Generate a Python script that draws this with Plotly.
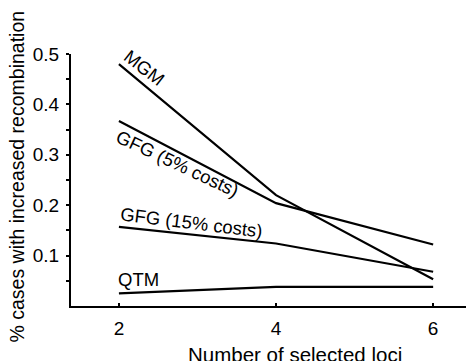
import plotly.graph_objects as go

loci = [2, 4, 6]
mgm = [0.48, 0.22, 0.053]
gfg5 = [0.367, 0.204, 0.122]
gfg15 = [0.157, 0.124, 0.068]
qtm = [0.025, 0.038, 0.038]

y_ticks = [0.1, 0.2, 0.3, 0.4, 0.5]
y_ticklabels = ["0.1", "0.2", "0.3", "0.4", "0.5"]
x_ticks = [2, 4, 6]

labels = ["MGM", "GFG (5% costs)", "GFG (15% costs)", "QTM"]
label_x = [2.32, 2.74, 2.92, 2.25]
label_y = [0.474, 0.282, 0.165, 0.053]
label_angle = [38, 25, 7, 0]

FONT = "Liberation Sans, Arial, Helvetica, sans-serif"

fig = go.Figure()
for ys in [mgm, gfg5, gfg15, qtm]:
    fig.add_trace(go.Scatter(x=loci, y=ys, mode="lines",
                             line=dict(color="black", width=2.2),
                             showlegend=False, hoverinfo="skip"))

for t, x, y, a in zip(labels, label_x, label_y, label_angle):
    fig.add_annotation(x=x, y=y, xref="x", yref="y", text=t, showarrow=False,
                       textangle=a, font=dict(family=FONT, size=18.5, color="black"),
                       xanchor="center", yanchor="middle")

fig.add_annotation(x=-0.135, y=0.512, xref="paper", yref="paper",
                   text="% cases with increased recombination", showarrow=False,
                   textangle=-90, font=dict(family=FONT, size=19.5, color="black"),
                   xanchor="center", yanchor="middle")
fig.add_annotation(x=0.556, y=-0.194, xref="paper", yref="paper",
                   text="Number of selected loci", showarrow=False,
                   font=dict(family=FONT, size=20.5, color="black"),
                   xanchor="center", yanchor="middle")

fig.update_layout(
    width=466, height=353,
    margin=dict(l=63, r=0, t=46, b=55),
    paper_bgcolor="white", plot_bgcolor="white",
    font=dict(family=FONT, size=19, color="black"),
    xaxis=dict(range=[1.39, 6.52], tickvals=x_ticks, ticks="inside", ticklen=3,
               tickwidth=1.5, tickcolor="black", showline=True, linecolor="black",
               linewidth=2, showgrid=False, zeroline=False, ticklabelstandoff=4,
               tickfont=dict(family=FONT, size=19)),
    yaxis=dict(range=[0, 0.5], tickvals=y_ticks, ticktext=y_ticklabels,
               ticks="outside", ticklen=3, tickwidth=1.5, tickcolor="black",
               showline=True, linecolor="black", linewidth=2, showgrid=False,
               zeroline=False, ticklabelstandoff=3, tickfont=dict(family=FONT, size=19),
               minor=dict(tickvals=[0.05, 0.15, 0.25, 0.35, 0.45], ticks="outside",
                          ticklen=3, tickwidth=1.5, tickcolor="black", showgrid=False)),
)

fig.write_html("out.html")
